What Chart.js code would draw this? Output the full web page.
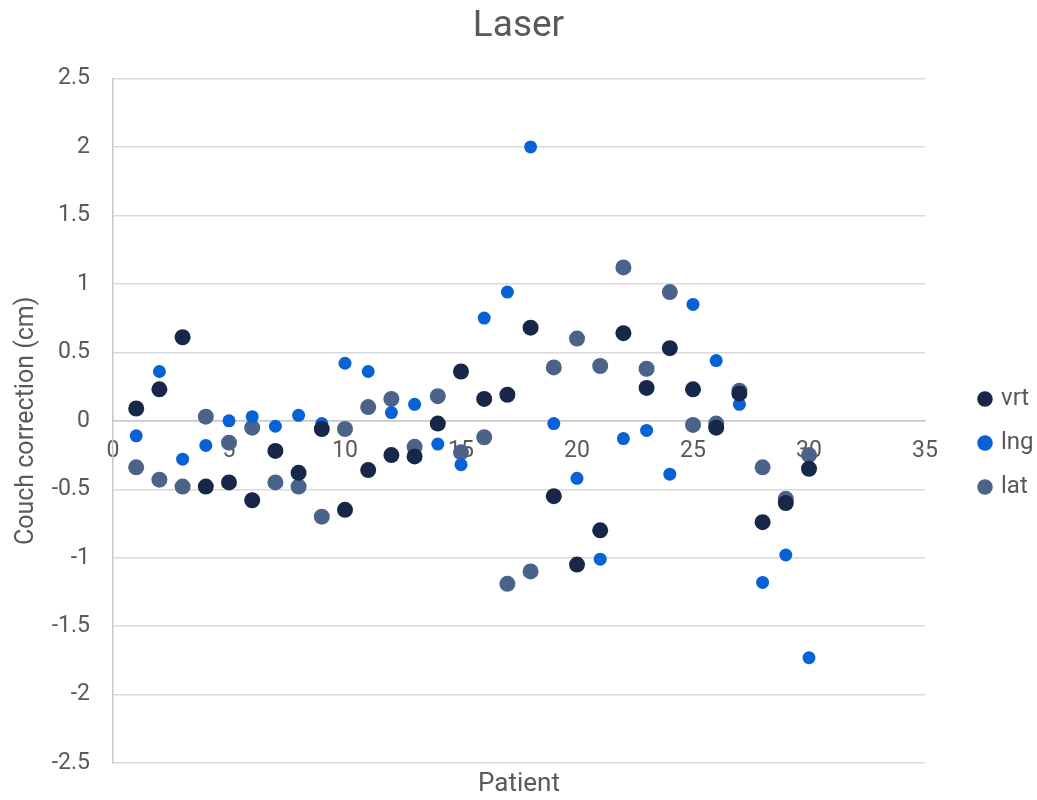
<!DOCTYPE html>
<html>
<head>
<meta charset="utf-8">
<script src="https://cdn.jsdelivr.net/npm/chart.js@4.4.1/dist/chart.umd.min.js"></script>
<style>
    html, body { margin: 0; padding: 0; background: #fff; }
</style>
</head>
<body>
<canvas id="grafico" width="1037" height="800"></canvas>
<script>
const patients = [1, 2, 3, 4, 5, 6, 7, 8, 9, 10, 11, 12, 13, 14, 15, 16, 17, 18, 19, 20, 21, 22, 23, 24, 25, 26, 27, 28, 29, 30];
const vrt = [0.09, 0.23, 0.61, -0.48, -0.45, -0.58, -0.22, -0.38, -0.06, -0.65, -0.36, -0.25, -0.26, -0.02, 0.36, 0.16, 0.19, 0.68, -0.55, -1.05, -0.80, 0.64, 0.24, 0.53, 0.23, -0.05, 0.20, -0.74, -0.60, -0.35];
const lng = [-0.11, 0.36, -0.28, -0.18, 0.00, 0.03, -0.04, 0.04, -0.02, 0.42, 0.36, 0.06, 0.12, -0.17, -0.32, 0.75, 0.94, 2.00, -0.02, -0.42, -1.01, -0.13, -0.07, -0.39, 0.85, 0.44, 0.12, -1.18, -0.98, -1.73];
const lat = [-0.34, -0.43, -0.48, 0.03, -0.16, -0.05, -0.45, -0.48, -0.70, -0.06, 0.10, 0.16, -0.19, 0.18, -0.23, -0.12, -1.19, -1.10, 0.39, 0.60, 0.40, 1.12, 0.38, 0.94, -0.03, -0.02, 0.22, -0.34, -0.57, -0.25];

const seriesNames = ['vrt', 'lng', 'lat'];
const textColor = '#595959';

function pares(valores) {
    return patients.map(function(p, i) { return { x: p, y: valores[i] }; });
}

const ctx = document.getElementById('grafico').getContext('2d');

new Chart(ctx, {
    type: 'scatter',
    data: {
        datasets: [
            { label: seriesNames[0], data: pares(vrt), backgroundColor: '#172747', borderColor: '#172747', pointRadius: 8, borderWidth: 0 },
            { label: seriesNames[1], data: pares(lng), backgroundColor: '#0763d5', borderColor: '#0763d5', pointRadius: 6.5, borderWidth: 0 },
            { label: seriesNames[2], data: pares(lat), backgroundColor: '#4b6388', borderColor: '#4b6388', pointRadius: 8, borderWidth: 0 }
        ]
    },
    options: {
        responsive: false,
        animation: false,
        layout: { padding: 0 },
        plugins: {
            title: {
                display: true,
                text: 'Laser',
                color: textColor,
                font: { family: 'Roboto', size: 37, weight: 'normal' },
                padding: { top: 5, bottom: 29 }
            },
            legend: {
                position: 'right',
                maxWidth: 76,
                title: {
                    display: true,
                    text: ' ',
                    font: { size: 10 },
                    padding: { top: 74, bottom: 0 }
                },
                labels: {
                    usePointStyle: true,
                    pointStyle: 'circle',
                    boxWidth: 8,
                    boxHeight: 11,
                    padding: 20,
                    color: textColor,
                    font: { family: 'Roboto', size: 24 }
                }
            },
            tooltip: { enabled: false }
        },
        scales: {
            x: {
                type: 'linear',
                position: { y: 0 },
                min: 0,
                max: 35,
                ticks: {
                    stepSize: 5,
                    padding: 17,
                    color: textColor,
                    font: { family: 'Roboto', size: 23 }
                },
                grid: { display: false, drawTicks: false },
                border: { display: true, color: '#c8c8c8', width: 1.5 }
            },
            x2: {
                type: 'linear',
                position: 'bottom',
                ticks: { display: false },
                grid: { display: false, drawTicks: false },
                border: { display: false },
                title: {
                    display: true,
                    text: 'Patient',
                    color: textColor,
                    font: { family: 'Roboto', size: 26, lineHeight: 1 },
                    padding: { top: 8, bottom: -2 }
                },
                afterFit: function(scale) { scale.height = 32; }
            },
            y: {
                min: -2.5,
                max: 2.5,
                ticks: {
                    stepSize: 0.5,
                    padding: 23,
                    color: textColor,
                    font: { family: 'Roboto', size: 23 },
                    callback: function(v) { return String(v); }
                },
                grid: { color: '#d9d9d9', lineWidth: 1.5, drawTicks: false },
                border: { display: true, color: '#c8c8c8', width: 1.5 },
                title: {
                    display: true,
                    text: 'Couch correction (cm)',
                    color: textColor,
                    font: { family: 'Roboto', size: 25 },
                    padding: { top: 12, bottom: 0 }
                },
                afterFit: function(scale) { scale.width = 113; }
            },
            y2: {
                position: 'right',
                ticks: { display: false },
                grid: { display: false, drawTicks: false },
                border: { display: false },
                afterFit: function(scale) { scale.width = 36; }
            }
        }
    }
});
</script>
</body>
</html>
